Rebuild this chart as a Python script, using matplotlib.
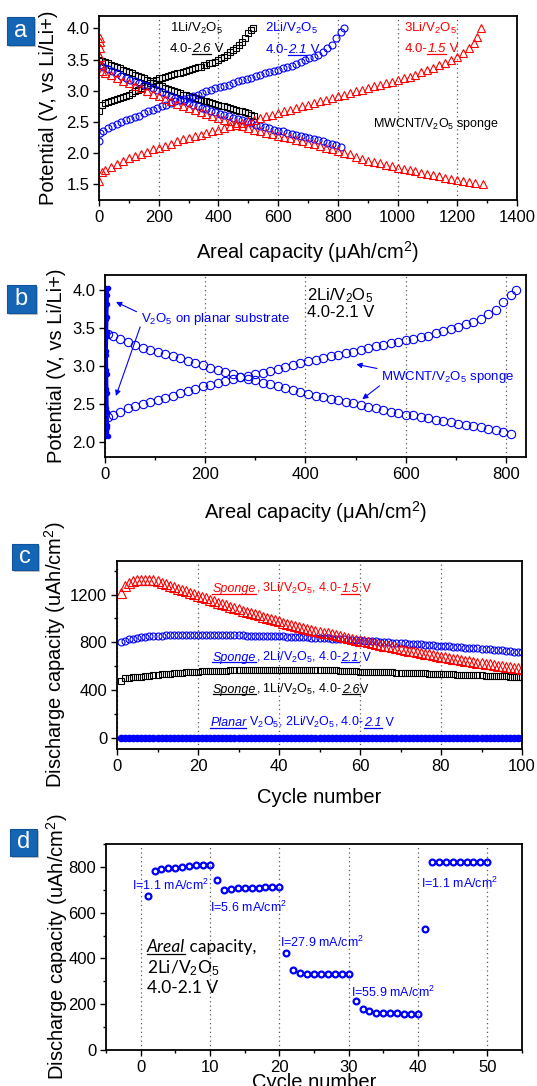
import matplotlib
matplotlib.use("Agg")
import matplotlib.pyplot as plt
from matplotlib.patches import FancyBboxPatch
from matplotlib.lines import Line2D
from matplotlib.transforms import IdentityTransform
from matplotlib.ticker import MultipleLocator

plt.rcParams["font.family"] = ["Liberation Sans", "DejaVu Sans"]
plt.rcParams["mathtext.fontset"] = "custom"
plt.rcParams["mathtext.rm"] = "Liberation Sans"
plt.rcParams["mathtext.it"] = "Liberation Sans:italic"
plt.rcParams["mathtext.bf"] = "Liberation Sans:bold"

# ---- panel a: charge / discharge curves (capacity uAh/cm2, potential V) ----
black_chg_cap = [0, 10, 20, 30, 40, 50, 60, 70, 80, 90, 100, 110, 120, 130, 140, 150,
                 160, 170, 180, 190, 200, 210, 220, 230, 240, 250, 260, 270, 280, 290,
                 300, 310, 320, 330, 340, 350, 360, 370, 380, 390, 400, 410, 420, 430,
                 440, 450, 460, 470, 480, 490, 500, 510, 515]
black_chg_v = [2.67, 2.78, 2.80, 2.82, 2.84, 2.85, 2.87, 2.88, 2.90, 2.92, 2.93, 2.96,
               2.99, 3.02, 3.05, 3.07, 3.10, 3.13, 3.15, 3.18, 3.20, 3.21, 3.23, 3.24,
               3.26, 3.27, 3.28, 3.29, 3.31, 3.32, 3.33, 3.35, 3.36, 3.38, 3.39, 3.41,
               3.42, 3.44, 3.45, 3.47, 3.49, 3.52, 3.55, 3.58, 3.62, 3.65, 3.69, 3.74,
               3.78, 3.85, 3.92, 3.97, 4.00]
black_dis_cap = [0, 10, 20, 30, 40, 50, 60, 70, 80, 90, 100, 110, 120, 130, 140, 150,
                 160, 170, 180, 190, 200, 210, 220, 230, 240, 250, 260, 270, 280, 290,
                 300, 310, 320, 330, 340, 350, 360, 370, 380, 390, 400, 410, 420, 430,
                 440, 450, 460, 470, 480, 490, 500, 510, 518]
black_dis_v = [3.50, 3.48, 3.46, 3.44, 3.42, 3.40, 3.38, 3.36, 3.34, 3.32, 3.30, 3.28,
               3.26, 3.24, 3.22, 3.20, 3.17, 3.15, 3.13, 3.11, 3.09, 3.07, 3.05, 3.03,
               3.01, 3.00, 2.98, 2.96, 2.94, 2.93, 2.91, 2.90, 2.88, 2.87, 2.86, 2.84,
               2.83, 2.82, 2.80, 2.79, 2.78, 2.76, 2.75, 2.74, 2.72, 2.71, 2.70, 2.68,
               2.67, 2.66, 2.64, 2.62, 2.60]

blue_chg_cap = [0, 5, 15, 30, 45, 60, 75, 90, 105, 120, 135, 150, 165, 180, 195, 210,
                225, 240, 255, 270, 285, 300, 315, 330, 345, 360, 375, 390, 405, 420,
                435, 450, 465, 480, 495, 510, 525, 540, 555, 570, 585, 600, 615, 630,
                645, 660, 675, 690, 705, 720, 735, 750, 765, 780, 795, 810, 820]
blue_chg_v = [2.20, 2.33, 2.36, 2.40, 2.44, 2.47, 2.50, 2.53, 2.55, 2.58, 2.60, 2.64,
              2.67, 2.70, 2.73, 2.75, 2.78, 2.80, 2.83, 2.85, 2.87, 2.89, 2.91, 2.94,
              2.96, 2.99, 3.01, 3.04, 3.06, 3.08, 3.10, 3.13, 3.15, 3.17, 3.19, 3.21,
              3.24, 3.26, 3.28, 3.30, 3.32, 3.34, 3.36, 3.38, 3.40, 3.43, 3.46, 3.49,
              3.52, 3.55, 3.58, 3.62, 3.68, 3.74, 3.84, 3.94, 4.00]
blue_dis_cap = [5, 15, 30, 45, 60, 75, 90, 105, 120, 135, 150, 165, 180, 195, 210,
                225, 240, 255, 270, 285, 300, 315, 330, 345, 360, 375, 390, 405, 420,
                435, 450, 465, 480, 495, 510, 525, 540, 555, 570, 585, 600, 615, 630,
                645, 660, 675, 690, 705, 720, 735, 750, 765, 780, 795, 810]
blue_dis_v = [3.42, 3.39, 3.35, 3.32, 3.28, 3.24, 3.21, 3.18, 3.16, 3.13, 3.10, 3.07,
              3.04, 3.01, 2.98, 2.95, 2.92, 2.89, 2.86, 2.83, 2.81, 2.78, 2.76, 2.73,
              2.71, 2.68, 2.66, 2.63, 2.61, 2.59, 2.57, 2.55, 2.53, 2.51, 2.49, 2.46,
              2.44, 2.42, 2.40, 2.38, 2.36, 2.35, 2.33, 2.31, 2.29, 2.28, 2.26, 2.24,
              2.22, 2.21, 2.19, 2.17, 2.15, 2.13, 2.10]

red_chg_cap = [0, 10, 20, 40, 60, 80, 100, 120, 140, 160, 180, 200, 220, 240, 260, 280,
               300, 320, 340, 360, 380, 400, 420, 440, 460, 480, 500, 520, 540, 560,
               580, 600, 620, 640, 660, 680, 700, 720, 740, 760, 780, 800, 820, 840,
               860, 880, 900, 920, 940, 960, 980, 1000, 1020, 1040, 1060, 1080, 1100,
               1120, 1140, 1160, 1180, 1200, 1220, 1240, 1255, 1265, 1280]
red_chg_v = [1.55, 1.70, 1.73, 1.78, 1.83, 1.88, 1.93, 1.96, 1.99, 2.02, 2.06, 2.09,
             2.12, 2.15, 2.19, 2.22, 2.25, 2.28, 2.30, 2.33, 2.35, 2.38, 2.41, 2.43,
             2.46, 2.48, 2.51, 2.54, 2.56, 2.59, 2.61, 2.64, 2.67, 2.70, 2.72, 2.75,
             2.78, 2.81, 2.83, 2.86, 2.88, 2.91, 2.94, 2.96, 2.99, 3.01, 3.04, 3.07,
             3.09, 3.12, 3.14, 3.17, 3.20, 3.23, 3.26, 3.30, 3.33, 3.37, 3.41, 3.45,
             3.49, 3.54, 3.60, 3.68, 3.77, 3.86, 4.00]
red_dis_cap = [2, 3, 4, 5, 7, 10, 20, 40, 60, 80, 100, 120, 140, 160, 180, 200, 220,
               240, 260, 280, 300, 320, 340, 360, 380, 400, 420, 440, 460, 480, 500,
               520, 540, 560, 580, 600, 620, 640, 660, 680, 700, 720, 740, 760, 780,
               800, 820, 840, 860, 880, 900, 920, 940, 960, 980, 1000, 1020, 1040,
               1060, 1080, 1100, 1120, 1140, 1160, 1180, 1200, 1220, 1240, 1260, 1285]
red_dis_v = [3.85, 3.78, 3.68, 3.55, 3.42, 3.32, 3.29, 3.25, 3.21, 3.16, 3.12, 3.08,
             3.04, 2.99, 2.95, 2.91, 2.87, 2.83, 2.79, 2.75, 2.72, 2.69, 2.66, 2.63,
             2.60, 2.57, 2.54, 2.51, 2.48, 2.44, 2.41, 2.38, 2.36, 2.33, 2.31, 2.28,
             2.26, 2.24, 2.21, 2.19, 2.17, 2.14, 2.12, 2.09, 2.07, 2.04, 2.01, 1.98,
             1.94, 1.91, 1.88, 1.86, 1.84, 1.81, 1.79, 1.77, 1.75, 1.73, 1.71, 1.69,
             1.67, 1.65, 1.63, 1.61, 1.59, 1.57, 1.56, 1.54, 1.53, 1.51]

# ---- panel b: planar V2O5 film (tiny capacity) ----
planar_dis_cap = [0, 0.5, 1, 1.5, 2, 2.5, 3, 3.5, 4, 4.5, 5]
planar_dis_v = [4.03, 3.93, 3.80, 3.62, 3.40, 3.15, 2.90, 2.65, 2.40, 2.22, 2.08]
planar_chg_cap = [0, 0.5, 1, 1.5, 2, 2.5, 3, 3.5, 4, 4.5, 5]
planar_chg_v = [2.08, 2.25, 2.45, 2.70, 2.95, 3.20, 3.45, 3.65, 3.82, 3.94, 4.03]

# ---- panel c: cycling, discharge capacity (uAh/cm2) ----
cycles = list(range(1, 101))
red_cyc = [1210, 1270, 1295, 1310, 1318, 1322, 1323, 1322, 1318, 1312,
           1295, 1284, 1272, 1261, 1249, 1238, 1226, 1214, 1202, 1190,
           1178, 1167, 1155, 1144, 1132, 1121, 1109, 1098, 1086, 1075,
           1065, 1055, 1045, 1035, 1025, 1015, 1005, 995, 985, 975,
           966, 958, 949, 941, 932, 924, 915, 907, 898, 890,
           882, 875, 867, 860, 852, 845, 837, 830, 822, 815,
           808, 801, 794, 787, 780, 773, 766, 759, 752, 745,
           739, 732, 726, 720, 714, 707, 701, 695, 688, 682,
           676, 671, 665, 659, 653, 648, 642, 636, 631, 625,
           620, 616, 611, 607, 602, 598, 593, 589, 584, 580]
blue_cyc = [805, 815, 825, 832, 838, 843, 847, 850, 853, 855,
            857, 858, 859, 860, 861, 862, 862, 862, 862, 862,
            862, 861, 861, 861, 860, 860, 860, 859, 859, 858,
            858, 857, 857, 856, 855, 855, 854, 853, 852, 851,
            850, 849, 848, 846, 845, 844, 842, 841, 839, 838,
            836, 834, 832, 830, 828, 826, 824, 822, 820, 818,
            815, 813, 811, 809, 806, 804, 801, 799, 797, 795,
            792, 790, 788, 786, 783, 781, 779, 777, 774, 772,
            770, 767, 765, 762, 760, 757, 755, 752, 750, 747,
            745, 742, 739, 736, 733, 730, 727, 724, 721, 718]
black_cyc = [475, 500, 505, 508, 512, 515, 520, 522, 525, 530,
             533, 536, 540, 542, 545, 548, 550, 552, 554, 556,
             558, 560, 561, 562, 564, 565, 565, 566, 566, 566,
             566, 566, 566, 566, 566, 566, 566, 566, 566, 566,
             566, 566, 566, 566, 566, 566, 566, 566, 566, 566,
             566, 566, 566, 566, 565, 563, 562, 560, 558, 557,
             556, 555, 554, 553, 552, 551, 550, 549, 548, 547,
             546, 545, 544, 543, 542, 541, 540, 539, 538, 537,
             536, 535, 534, 532, 531, 530, 529, 527, 526, 525,
             523, 522, 520, 519, 517, 516, 515, 513, 512, 510]
planar_cyc = [6, 6, 5, 5, 5, 5, 5, 5, 5, 5,
              5, 5, 5, 5, 5, 5, 5, 5, 5, 5,
              5, 5, 5, 5, 5, 5, 5, 5, 5, 5,
              5, 5, 5, 5, 5, 5, 5, 5, 5, 5,
              5, 5, 5, 5, 5, 5, 5, 5, 5, 5,
              5, 5, 5, 5, 5, 5, 5, 5, 5, 5,
              5, 5, 5, 5, 5, 5, 5, 5, 5, 5,
              5, 5, 5, 5, 5, 5, 5, 5, 5, 5,
              5, 5, 5, 5, 5, 5, 5, 5, 5, 5,
              5, 5, 5, 5, 5, 5, 5, 5, 5, 5]

# ---- panel d: rate test ----
rate_cycles = list(range(1, 51))
rate_cap = [672, 780, 789, 794, 797, 801, 803, 807, 807, 809,
            744, 700, 703, 706, 708, 709, 709, 711, 712, 712,
            424, 349, 335, 334, 334, 334, 334, 334, 334, 334,
            214, 178, 169, 162, 162, 162, 162, 158, 158, 158,
            528, 821, 821, 821, 821, 821, 821, 821, 821, 821]
rate_labels = ["I=1.1 mA/cm$^2$", "I=5.6 mA/cm$^2$", "I=27.9 mA/cm$^2$",
               "I=55.9 mA/cm$^2$", "I=1.1 mA/cm$^2$"]

W, H = 537, 1086
BLUE = "#0000ff"
RED = "#ff0000"


def fbox(left, top, right, bottom):
    return [left / W, 1 - bottom / H, (right - left) / W, (bottom - top) / H]


def style_axes(ax):
    for sp in ax.spines.values():
        sp.set_linewidth(1.3)
    ax.tick_params(which="both", direction="out", top=False, right=False,
                   labelsize=12, width=1.0)
    ax.tick_params(which="major", length=4, pad=3)
    ax.tick_params(which="minor", length=2.5)
    ax.grid(axis="x", which="major", linestyle=(0, (1, 2.5)), color="0.35", lw=0.9)
    ax.set_axisbelow(True)


def set_labels(ax, xlabel, ylabel, xl_y, yl_x):
    ax.set_xlabel(xlabel, fontsize=14.5)
    ax.set_ylabel(ylabel, fontsize=14.5)
    ax.xaxis.set_label_coords(0.5, xl_y)
    ax.yaxis.set_label_coords(yl_x, 0.5)


def rich_text(ax, x, y, parts, color, fontsize, family=None):
    """Write text pieces one after another; (text, italic, underline)."""
    rend = ax.figure.canvas.get_renderer()
    px, py = ax.transData.transform((x, y))
    py -= 0.36 * fontsize * 100 / 72
    for s, italic, under in parts:
        kw = {}
        if family:
            kw["family"] = family
        t = ax.text(px, py, s, transform=IdentityTransform(), color=color,
                    fontsize=fontsize, style="italic" if italic else "normal",
                    va="baseline", ha="left", **kw)
        bb = t.get_window_extent(rend)
        if under:
            ax.add_line(Line2D([bb.x0, bb.x1], [py - 1.6, py - 1.6],
                               transform=IdentityTransform(), color=color, lw=0.9))
        px = bb.x1


def panel_label(fig, letter, left, top, right, bottom):
    x0, y0, w, h = fbox(left, top, right, bottom)
    shadow = FancyBboxPatch((x0 + 2 / W, y0 - 2 / H), w, h, boxstyle="square,pad=0",
                            transform=fig.transFigure, fc="#9a9a9a", ec="none", alpha=0.6)
    box = FancyBboxPatch((x0, y0), w, h, boxstyle="square,pad=0",
                         transform=fig.transFigure, fc="#1565b5", ec="#0f559e", lw=0.8)
    fig.patches.extend([shadow, box])
    fig.text(x0 + w / 2, y0 + h / 2, letter, color="white", fontsize=17,
             ha="center", va="center")


fig = plt.figure(figsize=(W / 100, H / 100), dpi=100)

# ---------------- panel a ----------------
ax = fig.add_axes(fbox(99, 16, 517, 200))
style_axes(ax)
mk = dict(linestyle="none", mfc="none", mew=0.8)
ax.plot(black_chg_cap, black_chg_v, marker="s", ms=4.5, color="k", **mk)
ax.plot(black_dis_cap, black_dis_v, marker="s", ms=4.5, color="k", **mk)
ax.plot(blue_chg_cap, blue_chg_v, marker="o", ms=5, color=BLUE, **mk)
ax.plot(blue_dis_cap, blue_dis_v, marker="o", ms=5, color=BLUE, **mk)
ax.plot(red_chg_cap, red_chg_v, marker="^", ms=6, color=RED, **mk)
ax.plot(red_dis_cap, red_dis_v, marker="^", ms=6, color=RED, **mk)
ax.set_xlim(0, 1400)
ax.set_ylim(1.25, 4.2)
ax.xaxis.set_major_locator(MultipleLocator(200))
ax.xaxis.set_minor_locator(MultipleLocator(100))
ax.yaxis.set_major_locator(MultipleLocator(0.5))
set_labels(ax, "Areal capacity (μAh/cm$^2$)", "Potential (V, vs Li/Li+)", -0.215, -0.098)
ax.text(238, 4.0, "1Li/V$_2$O$_5$", color="k", fontsize=9.5, va="center")
rich_text(ax, 236, 3.70, [("4.0-", False, False), ("2.6", True, True), (" V", False, False)], "k", 9.5)
ax.text(557, 4.0, "2Li/V$_2$O$_5$", color=BLUE, fontsize=9.5, va="center")
rich_text(ax, 557, 3.68, [("4.0-", False, False), ("2.1", True, True), (" V", False, False)], BLUE, 9.5)
ax.text(1023, 4.0, "3Li/V$_2$O$_5$", color=RED, fontsize=9.5, va="center")
rich_text(ax, 1023, 3.70, [("4.0-", False, False), ("1.5", True, True), (" V", False, False)], RED, 9.5)
ax.text(917, 2.47, "MWCNT/V$_2$O$_5$ sponge", color="k", fontsize=9, va="center")
panel_label(fig, "a", 7, 17, 34, 45)

# ---------------- panel b ----------------
ax = fig.add_axes(fbox(105, 275, 526, 457))
style_axes(ax)
ax.plot(blue_chg_cap, blue_chg_v, marker="o", ms=6, color=BLUE, **mk)
ax.plot(blue_dis_cap, blue_dis_v, marker="o", ms=6, color=BLUE, **mk)
ax.plot(planar_dis_cap, planar_dis_v, marker="o", ms=3, color=BLUE, lw=2.5)
ax.plot(planar_chg_cap, planar_chg_v, marker="o", ms=3, color=BLUE, lw=2.5)
ax.set_xlim(0, 840)
ax.set_ylim(1.8, 4.2)
ax.xaxis.set_major_locator(MultipleLocator(200))
ax.xaxis.set_minor_locator(MultipleLocator(100))
ax.yaxis.set_major_locator(MultipleLocator(0.5))
set_labels(ax, "Areal capacity (μAh/cm$^2$)", "Potential (V, vs Li/Li+)", -0.232, -0.093)
ax.text(403, 3.93, "2Li/V$_2$O$_5$", color="k", fontsize=12, va="center")
ax.text(403, 3.70, "4.0-2.1 V", color="k", fontsize=12, va="center")
ax.text(72, 3.62, "V$_2$O$_5$ on planar substrate", color=BLUE, fontsize=9.5, va="center")
ax.text(550, 2.85, "MWCNT/V$_2$O$_5$ sponge", color=BLUE, fontsize=9.5, va="center")
arr = dict(arrowstyle="-|>", color=BLUE, lw=0.8, mutation_scale=8)
ax.annotate("", xy=(17, 3.86), xytext=(68, 3.70), arrowprops=arr)
ax.annotate("", xy=(20, 2.57), xytext=(72, 3.55), arrowprops=arr)
ax.annotate("", xy=(496, 3.03), xytext=(548, 2.96), arrowprops=arr)
ax.annotate("", xy=(509, 2.54), xytext=(552, 2.76), arrowprops=arr)
panel_label(fig, "b", 7, 285, 36, 313)

# ---------------- panel c ----------------
ax = fig.add_axes(fbox(117, 561, 522, 749))
style_axes(ax)
ax.plot(cycles, planar_cyc, marker="o", ms=4.5, color=BLUE, linestyle="none")
ax.plot(cycles, black_cyc, marker="s", ms=5, color="k", **mk)
ax.plot(cycles, blue_cyc, marker="o", ms=5, color=BLUE, **mk)
ax.plot(cycles, red_cyc, marker="^", ms=6.5, color=RED, **mk)
ax.set_xlim(0, 100)
ax.set_ylim(-90, 1480)
ax.xaxis.set_major_locator(MultipleLocator(20))
ax.xaxis.set_minor_locator(MultipleLocator(10))
ax.yaxis.set_major_locator(MultipleLocator(400))
ax.yaxis.set_minor_locator(MultipleLocator(200))
set_labels(ax, "Cycle number", "Discharge capacity (uAh/cm$^2$)", -0.205, -0.12)
rich_text(ax, 23.5, 1257, [("Sponge", True, True), (", 3Li/V$_2$O$_5$, 4.0-", False, False),
                           ("1.5", True, True), (" V", False, False)], RED, 9)
rich_text(ax, 23.5, 685, [("Sponge", True, True), (", 2Li/V$_2$O$_5$, 4.0-", False, False),
                          ("2.1", True, True), (" V", False, False)], BLUE, 9)
rich_text(ax, 23.7, 418, [("Sponge", True, True), (", 1Li/V$_2$O$_5$, 4.0-", False, False),
                          ("2.6", True, True), ("V", False, False)], "k", 9)
rich_text(ax, 23, 139, [("Planar", True, True), (" V$_2$O$_5$, 2Li/V$_2$O$_5$, 4.0-", False, False),
                        ("2.1", True, True), (" V", False, False)], BLUE, 9)
panel_label(fig, "c", 12, 544, 38, 570)

# ---------------- panel d ----------------
ax = fig.add_axes(fbox(106, 844, 522, 1050))
style_axes(ax)
ax.plot(rate_cycles, rate_cap, marker="o", ms=4.2, color=BLUE, mfc="none",
        mew=1.6, linestyle="none")
ax.set_xlim(-5, 55)
ax.set_ylim(0, 900)
ax.xaxis.set_major_locator(MultipleLocator(10))
ax.xaxis.set_minor_locator(MultipleLocator(5))
ax.yaxis.set_major_locator(MultipleLocator(200))
ax.yaxis.set_minor_locator(MultipleLocator(100))
set_labels(ax, "Cycle number", "Discharge capacity (uAh/cm$^2$)", -0.113, -0.086)
label_pos = [(-1.3, 721), (10.0, 623), (20.1, 468), (30.4, 251), (40.4, 729)]
for (lx, ly), lab in zip(label_pos, rate_labels):
    ax.text(lx, ly, lab, color=BLUE, fontsize=9, va="center")
lato = ["Lato", "DejaVu Sans"]
rich_text(ax, 0.9, 454, [("Areal", True, True), (" capacity,", False, False)], "k", 12.5, lato)
ax.text(0.9, 356, "2Li/V$_2$O$_5$", color="k", fontsize=12.5, va="center", family=lato)
ax.text(0.9, 269, "4.0-2.1 V", color="k", fontsize=12.5, va="center", family=lato)
panel_label(fig, "d", 10, 829, 37, 856)

fig.savefig("out.png", dpi=100)
